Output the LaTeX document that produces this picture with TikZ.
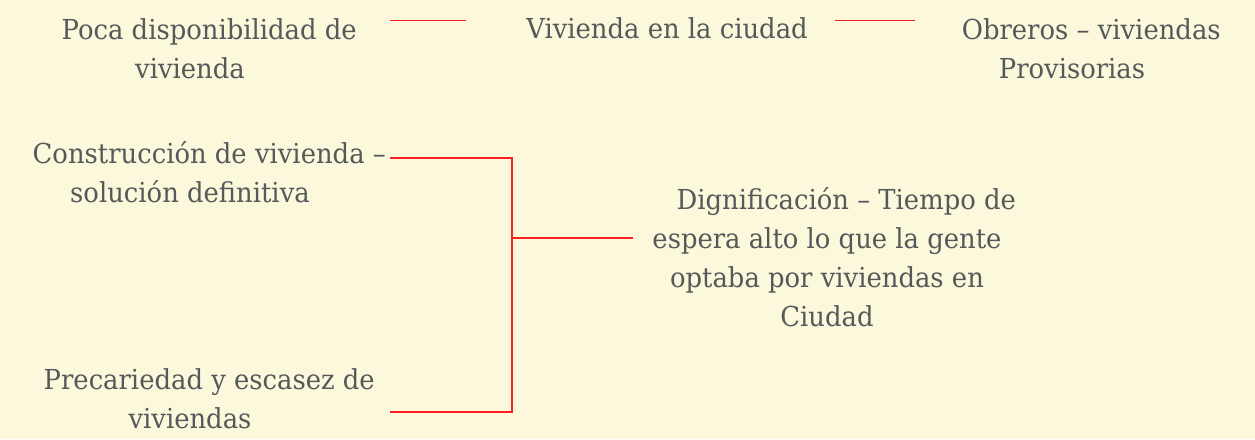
\documentclass[tikz,border=0pt]{standalone}
\usepackage{fontspec}
\setmainfont{DejaVu Serif}[FakeStretch=0.94]
\definecolor{paper}{HTML}{FCF8DC}
\definecolor{ink}{HTML}{55595A}
\definecolor{wire}{HTML}{FF1F1F}
\providecommand\lead{\hspace*{1.4em}}

\begin{document}
\begin{tikzpicture}[x=1pt, y=-1pt, ink,
    txt/.style = {inner sep = 0pt, anchor = base, align = center, font = \fontsize{27.5}{39}\selectfont},
    link/.style = {draw = wire, line width = 1.8pt},]

    \fill[paper] (0,0) rectangle (1255,439);
    \useasboundingbox (0,0) rectangle (1255,439);

    % top row (base = last line)
    \node (poca) at (190,78.5) [txt] {\lead Poca disponibilidad de\\ vivienda};
    \node (viv)  at (667,38.5) [txt] {Vivienda en la ciudad};
    \node (obr)  at (1072,78.5) [txt] {\lead Obreros -- viviendas\\ Provisorias};

    % left column and result
    \node (constr) at (190,202) [txt] {\lead Construcción de vivienda --\\ solución definitiva};
    \node (prec)   at (190,428) [txt] {\lead Precariedad y escasez de\\ viviendas};
    \node (dign)   at (827,326.7) [txt] {\lead Dignificación -- Tiempo de\\ espera alto lo que la gente\\ optaba por viviendas en\\ Ciudad};

    \draw[link] ([xshift=200pt, yshift=58pt]poca.base) -- ([xshift=-201pt, yshift=18pt]viv.base);
    \draw[link] ([xshift=168pt, yshift=18pt]viv.base) -- ([xshift=-157pt, yshift=58pt]obr.base);

    \draw[link] ([xshift=200pt, yshift=43.7pt]constr.base) -- ++(121.7,0) |- ([xshift=-194.3pt, yshift=88.4pt]dign.base);
    \draw[link] ([xshift=200pt, yshift=16.3pt]prec.base) -- ++(121.7,0) |- ([xshift=-194.3pt, yshift=88.4pt]dign.base);

\end{tikzpicture}
\end{document}
